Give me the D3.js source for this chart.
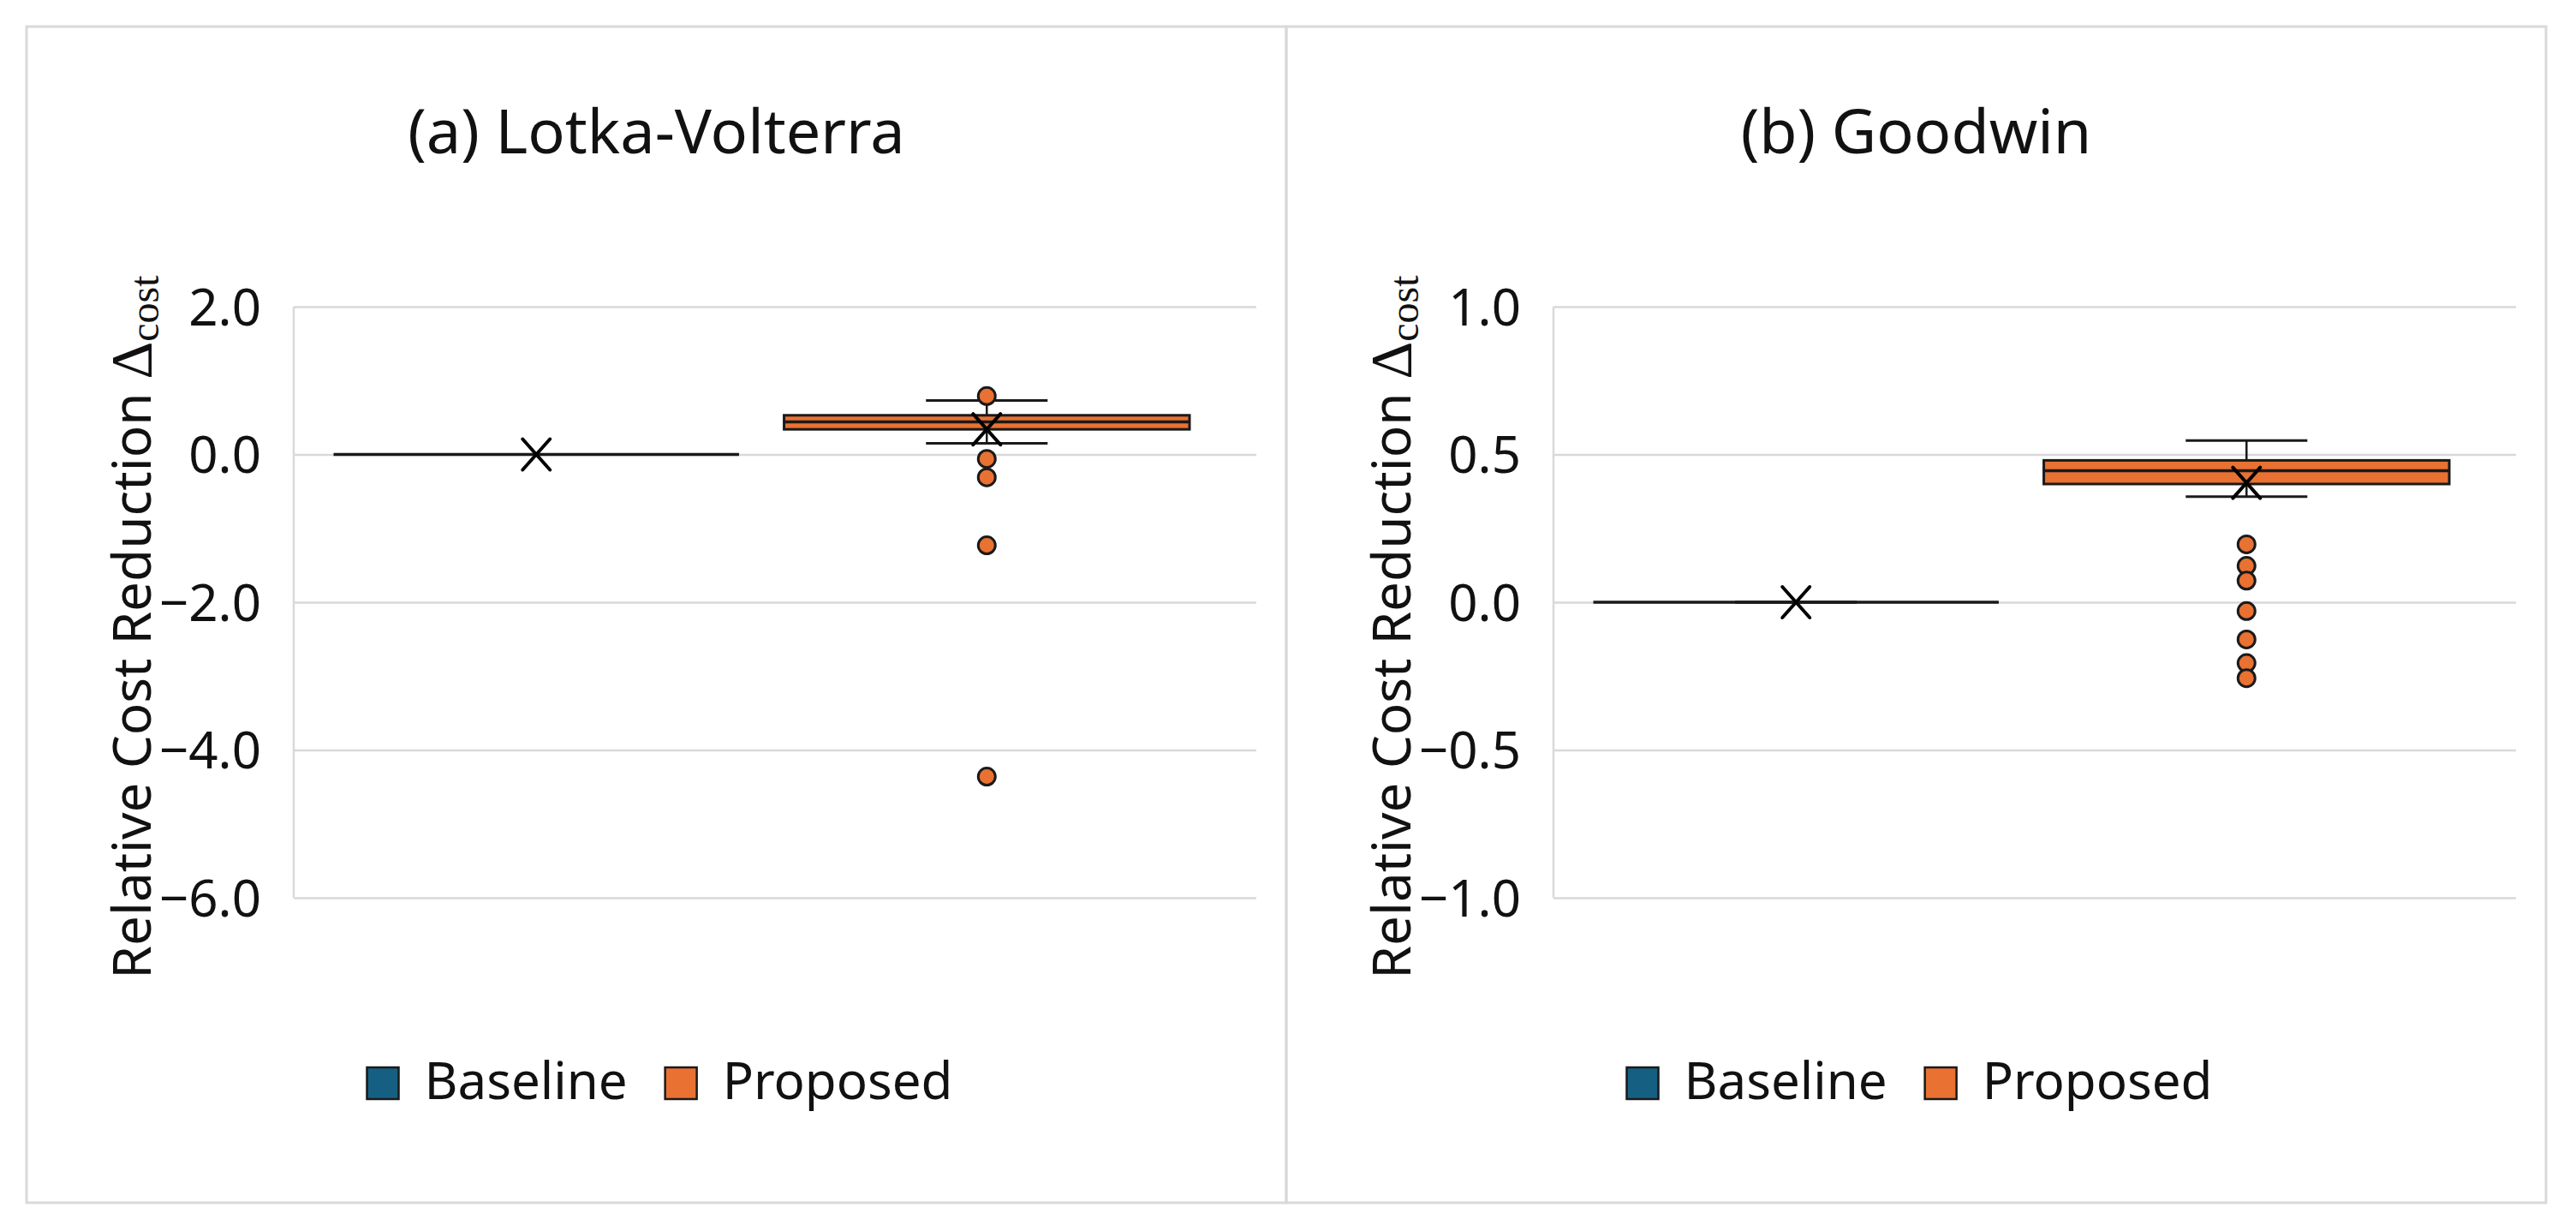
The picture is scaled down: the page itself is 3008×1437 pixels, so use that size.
<!DOCTYPE html>
<html>
<head>
<meta charset="utf-8">
<script src="https://cdn.jsdelivr.net/npm/d3@7"></script>
<style>
  html, body { margin: 0; padding: 0; background: #fff; }
  svg { display: block; }
</style>
</head>
<body>
<svg id="chart"></svg>
<script>
// ---------- data ----------
const series = ["Baseline", "Proposed"];
const seriesColors = ["#156082", "#E97132"];

const titles = ["(a) Lotka-Volterra", "(b) Goodwin"];

// (a) Lotka-Volterra
const lvTicks = [2, 0, -2, -4, -6];
const lvLowWhisker = [0, 0.15];
const lvQ1 = [0, 0.34];
const lvMedian = [0, 0.44];
const lvQ3 = [0, 0.53];
const lvHighWhisker = [0, 0.73];
const lvMean = [0, 0.34];
const lvOutliers = [[], [0.79, -0.06, -0.31, -1.23, -4.36]];

// (b) Goodwin
const gwTicks = [1, 0.5, 0, -0.5, -1];
const gwLowWhisker = [0, 0.357];
const gwQ1 = [0, 0.40];
const gwMedian = [0, 0.445];
const gwQ3 = [0, 0.48];
const gwHighWhisker = [0, 0.547];
const gwMean = [0, 0.404];
const gwOutliers = [[], [0.196, 0.123, 0.073, -0.03, -0.126, -0.206, -0.257]];

// ---------- layout ----------
const W = 3008, H = 1437;
const frameTop = 31, frameBottom = 1404;
const panelX = [31, 1502];
const panelW = 1471;
const plot = { left: 312, width: 1124, top: 358, bottom: 1048 };

const FONT = "'Noto Sans', 'Open Sans', sans-serif";
const MATH = "'Liberation Serif', 'DejaVu Serif', serif";
const INK = "#111";
const GRID = "#d9d9d9";
const EDGE = "#1a1a1a";

const svg = d3.select("#chart").attr("width", W).attr("height", H);
svg.append("rect").attr("width", W).attr("height", H).attr("fill", "#fff");

const makeRows = (lo, q1, med, q3, hi, mean, out) =>
  series.map((s, i) => ({
    key: s, color: seriesColors[i],
    lo: lo[i], q1: q1[i], med: med[i], q3: q3[i], hi: hi[i],
    mean: mean[i], outliers: out[i],
  }));

const panels = [
  { title: titles[0], ticks: lvTicks, rows: makeRows(lvLowWhisker, lvQ1, lvMedian, lvQ3, lvHighWhisker, lvMean, lvOutliers) },
  { title: titles[1], ticks: gwTicks, rows: makeRows(gwLowWhisker, gwQ1, gwMedian, gwQ3, gwHighWhisker, gwMean, gwOutliers) },
];

const drawPanel = (p, idx) => {
  const ox = panelX[idx];
  const g = svg.append("g").attr("transform", `translate(${ox},0)`);

  // panel border
  g.append("rect")
    .attr("x", 0).attr("y", frameTop)
    .attr("width", panelW).attr("height", frameBottom - frameTop)
    .attr("fill", "none").attr("stroke", GRID).attr("stroke-width", 3);

  // title
  g.append("text")
    .attr("x", panelW / 2).attr("y", 179)
    .attr("text-anchor", "middle")
    .attr("font-family", FONT).attr("font-size", 72).attr("fill", INK)
    .text(p.title);

  const y = d3.scaleLinear()
    .domain(d3.extent(p.ticks))
    .range([plot.bottom, plot.top]);

  const x = d3.scaleBand()
    .domain(series)
    .range([plot.left + 46.5, plot.left + plot.width - 78])
    .paddingInner(0.1);

  // gridlines + tick labels
  const axis = g.append("g")
    .attr("transform", `translate(${plot.left},0)`)
    .call(d3.axisLeft(y)
      .tickValues(p.ticks)
      .tickSize(-plot.width)
      .tickPadding(38)
      .tickFormat(d3.format(".1f")));
  axis.select(".domain").remove();
  axis.attr("font-family", null).attr("font-size", null);
  axis.selectAll(".tick line").attr("stroke", GRID).attr("stroke-width", 2.5);
  axis.selectAll(".tick text")
    .attr("font-family", FONT).attr("font-size", 60).attr("fill", INK)
    .attr("dy", "0.35em");

  // value axis line
  g.append("line")
    .attr("x1", plot.left).attr("x2", plot.left)
    .attr("y1", plot.top).attr("y2", plot.bottom)
    .attr("stroke", GRID).attr("stroke-width", 2.5);

  // axis title
  const yt = g.append("text")
    .attr("transform", `translate(145,${(plot.top + plot.bottom) / 2 + 29}) rotate(-90)`)
    .attr("text-anchor", "middle")
    .attr("font-family", FONT).attr("font-size", 62).attr("fill", INK);
  yt.append("tspan").text("Relative Cost Reduction ");
  yt.append("tspan").attr("font-family", MATH).attr("font-size", 68).text("Δ");
  yt.append("tspan").attr("font-family", MATH).attr("font-size", 48).attr("dy", 9).text("cost");

  // boxes
  const bw = x.bandwidth();
  const capW = bw * 0.3;
  const box = g.selectAll("g.box")
    .data(p.rows)
    .enter()
    .append("g")
    .attr("class", "box");

  box.each(function (d) {
    const b = d3.select(this);
    const x0 = x(d.key), cx = x0 + bw / 2;

    // whiskers
    b.append("line")
      .attr("x1", cx).attr("x2", cx)
      .attr("y1", y(d.hi)).attr("y2", y(d.q3))
      .attr("stroke", EDGE).attr("stroke-width", 2.5);
    b.append("line")
      .attr("x1", cx).attr("x2", cx)
      .attr("y1", y(d.q1)).attr("y2", y(d.lo))
      .attr("stroke", EDGE).attr("stroke-width", 2.5);
    [d.hi, d.lo].forEach((v) => {
      b.append("line")
        .attr("x1", cx - capW / 2).attr("x2", cx + capW / 2)
        .attr("y1", y(v)).attr("y2", y(v))
        .attr("stroke", EDGE).attr("stroke-width", 3);
    });

    // box + median
    b.append("rect")
      .attr("x", x0).attr("width", bw)
      .attr("y", y(d.q3)).attr("height", y(d.q1) - y(d.q3))
      .attr("fill", d.color)
      .attr("stroke", EDGE).attr("stroke-width", 3);
    b.append("line")
      .attr("x1", x0).attr("x2", x0 + bw)
      .attr("y1", y(d.med)).attr("y2", y(d.med))
      .attr("stroke", EDGE).attr("stroke-width", 3.5);

    // mean marker (X)
    const my = y(d.mean);
    b.append("path")
      .attr("d", `M${cx - 16},${my - 18}L${cx + 16},${my + 18}M${cx + 16},${my - 18}L${cx - 16},${my + 18}`)
      .attr("stroke", "#000").attr("stroke-width", 4)
      .attr("stroke-linecap", "round").attr("fill", "none");

    // outliers
    b.selectAll("circle")
      .data(d.outliers)
      .enter()
      .append("circle")
      .attr("cx", cx).attr("cy", (v) => y(v))
      .attr("r", 10)
      .attr("fill", d.color)
      .attr("stroke", EDGE).attr("stroke-width", 3);
  });

  // legend, centred in the panel
  const legend = g.append("g");
  let lx = 0;
  series.forEach((s, i) => {
    const item = legend.append("g").attr("transform", `translate(${lx},0)`);
    item.append("rect")
      .attr("x", 0).attr("y", 1246)
      .attr("width", 37).attr("height", 37)
      .attr("fill", seriesColors[i])
      .attr("stroke", EDGE).attr("stroke-width", 2.5);
    const t = item.append("text")
      .attr("x", 67).attr("y", 1283)
      .attr("font-family", FONT).attr("font-size", 60).attr("fill", INK)
      .text(s);
    lx += 67 + t.node().getComputedTextLength() + 44;
  });
  const legW = lx - 44;
  legend.attr("transform", `translate(${panelW / 2 - legW / 2 + 4},0)`);
};

panels.forEach(drawPanel);
</script>
</body>
</html>
